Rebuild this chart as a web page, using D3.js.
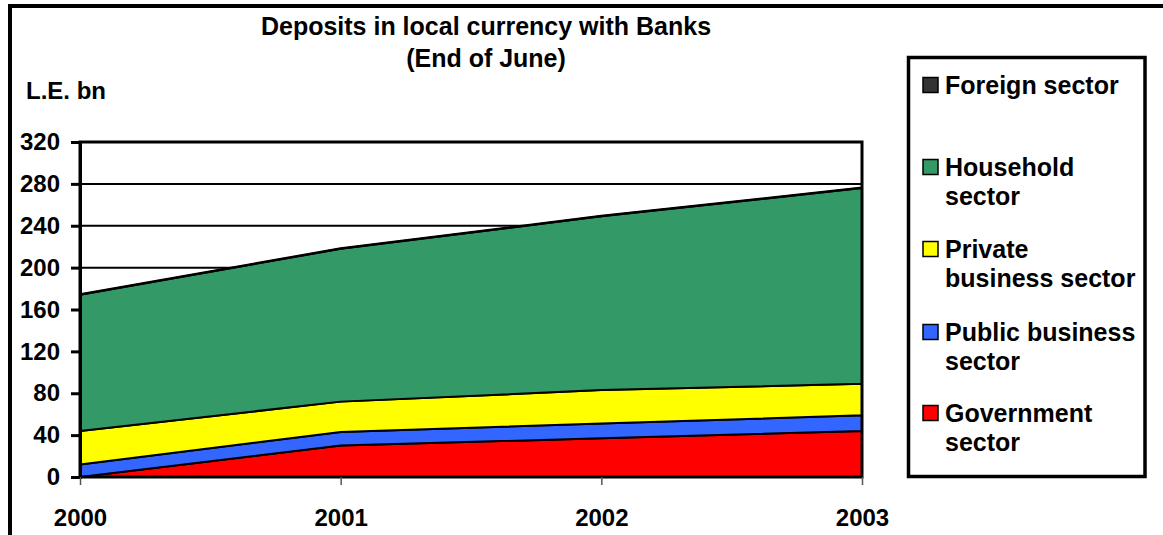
<!DOCTYPE html>
<html>
<head>
<meta charset="utf-8">
<script src="https://cdn.jsdelivr.net/npm/d3@7/dist/d3.min.js"></script>
<style>
  html, body { margin: 0; padding: 0; background: #fff; }
  svg { display: block; }
  text { font-family: "Liberation Sans", Arial, sans-serif; font-weight: bold; fill: #000; }
</style>
</head>
<body>
<svg id="chart" width="1163" height="535"></svg>
<script>
// Deposits in local currency with banks, end of June (L.E. bn)
const years = ["2000", "2001", "2002", "2003"];
const government = [0, 30, 37, 44];
const publicBusiness = [12, 13, 14, 15];
const privateBusiness = [32, 29, 32, 30];
const household = [130, 146, 166, 187];
const foreign = [0.5, 0.5, 0.5, 0.5];
const yTicks = [0, 40, 80, 120, 160, 200, 240, 280, 320];

const seriesNames = ["Government sector", "Public business sector", "Private business sector", "Household sector", "Foreign sector"];
const seriesColors = ["#ff0000", "#3366ff", "#ffff00", "#339966", "#333333"];
const legendLines = [
  ["Foreign sector"],
  ["Household", "sector"],
  ["Private", "business sector"],
  ["Public business", "sector"],
  ["Government", "sector"]
];
const legendColors = ["#333333", "#339966", "#ffff00", "#3366ff", "#ff0000"];

const FONT = 24;
const FONT_LARGE = 25;

const rows = years.map((y, i) => ({
  year: y,
  "Government sector": government[i],
  "Public business sector": publicBusiness[i],
  "Private business sector": privateBusiness[i],
  "Household sector": household[i],
  "Foreign sector": foreign[i]
}));

const svg = d3.select("#chart");

// outer frame (top and left edges visible)
svg.append("path")
  .attr("d", "M10,535 L10,6 L1163,6")
  .attr("fill", "none").attr("stroke", "#000").attr("stroke-width", 4);

const plot = { left: 80, right: 862, top: 142, bottom: 477 };

const x = d3.scalePoint().domain(years).range([plot.left, plot.right]);
const y = d3.scaleLinear().domain([0, 320]).range([plot.bottom, plot.top]);

// horizontal gridlines
svg.append("g").selectAll("line").data(yTicks.filter(t => t > 0 && t < 320)).join("line")
  .attr("x1", plot.left).attr("x2", plot.right)
  .attr("y1", d => y(d)).attr("y2", d => y(d))
  .attr("stroke", "#000").attr("stroke-width", 2);

// stacked areas
const stack = d3.stack().keys(seriesNames);
const layers = stack(rows);
const area = d3.area()
  .x(d => x(d.data.year))
  .y0(d => y(d[0]))
  .y1(d => y(d[1]));

svg.append("g").selectAll("path").data(layers).join("path")
  .attr("d", area)
  .attr("fill", (d, i) => seriesColors[i])
  .attr("stroke", "#000")
  .attr("stroke-width", 2)
  .attr("stroke-linejoin", "round");

// plot frame
svg.append("rect")
  .attr("x", plot.left).attr("y", plot.top)
  .attr("width", plot.right - plot.left).attr("height", plot.bottom - plot.top)
  .attr("fill", "none").attr("stroke", "#000").attr("stroke-width", 3);

// y axis
const yAxis = svg.append("g")
  .attr("transform", `translate(${plot.left},0)`)
  .call(d3.axisLeft(y).tickValues(yTicks).tickSize(9).tickPadding(11).tickFormat(d3.format("d")));
yAxis.select(".domain").attr("stroke", "#000").attr("stroke-width", 3);
yAxis.selectAll(".tick line").attr("stroke", "#000").attr("stroke-width", 3);
yAxis.selectAll(".tick text").attr("font-size", FONT).attr("font-family", "Liberation Sans, Arial, sans-serif").attr("font-weight", "bold").attr("fill", "#000");

// x axis
const xAxis = svg.append("g")
  .attr("transform", `translate(0,${plot.bottom})`)
  .call(d3.axisBottom(x).tickSize(8).tickPadding(24));
xAxis.select(".domain").remove();
xAxis.selectAll(".tick line").attr("stroke", "#555").attr("stroke-width", 1.5);
xAxis.selectAll(".tick text").attr("font-size", FONT).attr("font-family", "Liberation Sans, Arial, sans-serif").attr("font-weight", "bold").attr("fill", "#000");

// titles
svg.append("text").attr("x", 486).attr("y", 35).attr("text-anchor", "middle").attr("font-size", FONT_LARGE)
  .text("Deposits in local currency with Banks");
svg.append("text").attr("x", 486).attr("y", 67).attr("text-anchor", "middle").attr("font-size", FONT_LARGE)
  .text("(End of June)");
svg.append("text").attr("x", 26).attr("y", 99).attr("font-size", FONT).text("L.E. bn");

// legend
const legend = svg.append("g");
legend.append("rect")
  .attr("x", 908.5).attr("y", 57.5).attr("width", 236.5).attr("height", 419)
  .attr("fill", "#fff").attr("stroke", "#000").attr("stroke-width", 3.5);

const markerCenter = [85, 167, 249, 332, 413];
const entries = legend.selectAll("g.entry").data(legendLines).join("g").attr("class", "entry");
entries.append("rect")
  .attr("x", 923).attr("y", (d, i) => markerCenter[i] - 7.5)
  .attr("width", 15).attr("height", 15)
  .attr("fill", (d, i) => legendColors[i])
  .attr("stroke", "#000").attr("stroke-width", 1.5);
entries.append("text")
  .attr("x", 945).attr("y", (d, i) => markerCenter[i] + 9)
  .attr("font-size", FONT_LARGE)
  .selectAll("tspan").data(d => d).join("tspan")
  .attr("x", 945).attr("dy", (d, j) => j === 0 ? 0 : 29)
  .text(d => d);
</script>
</body>
</html>
